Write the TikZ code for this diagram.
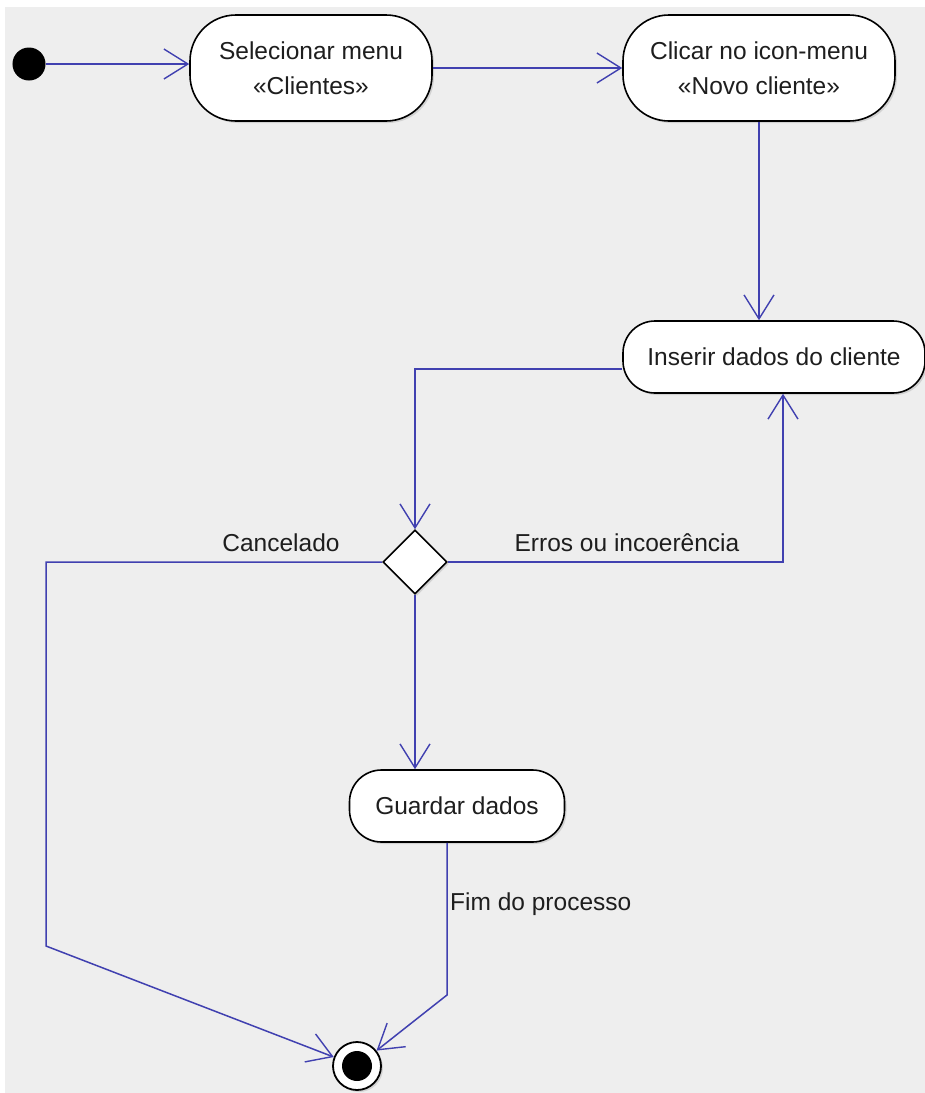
\documentclass[tikz,border=0pt]{standalone}
\usepackage{fontspec}
\setmainfont{Liberation Sans}
\usetikzlibrary{shapes,arrows.meta,shadows}
\definecolor{umlblue}{RGB}{64,64,176}
\definecolor{umlback}{RGB}{238,238,238}
\definecolor{umltext}{RGB}{30,30,30}

\begin{document}
\begin{tikzpicture}[x=1pt,y=-1pt]
\tikzset{act/.style={draw,line width=1.6pt,fill=white,rounded corners=30pt,align=center,text=umltext,
  font=\fontsize{24.5}{35}\selectfont,drop shadow={opacity=0.25,shadow xshift=2pt,shadow yshift=-2pt}}}
\tikzset{flow/.style={draw=umlblue,line width=1.5pt,-{Straight Barb[length=24pt,width=30pt,line width=1.4pt]}}}
\tikzset{guard/.style={text=umltext,font=\fontsize{24.5}{30}\selectfont,inner sep=0pt}}
\fill[white] (0,0) rectangle (925,1093);
\fill[umlback] (5,7) rectangle (925,1093);
\useasboundingbox (0,0) rectangle (925,1093);

\node[circle,fill=black,draw=black,line width=1pt,minimum size=32pt,inner sep=0pt] (start) at (29,64) {};
\node[act,minimum width=242pt,minimum height=106pt,rounded corners=46pt] (sel) at (311,68) {Selecionar menu\\«Clientes»};
\node[act,minimum width=272pt,minimum height=106pt,rounded corners=46pt] (cli) at (759,68) {Clicar no icon-menu\\«Novo cliente»};
\node[act,minimum width=302pt,minimum height=72pt,rounded corners=32pt] (ins) at (774,357) {Inserir dados do cliente};
\node[diamond,draw,line width=1.6pt,fill=white,minimum width=64pt,minimum height=64pt,inner sep=0pt,
  drop shadow={opacity=0.25,shadow xshift=2pt,shadow yshift=-2pt}] (dec) at (415,562) {};
\node[act,minimum width=215pt,minimum height=72pt,rounded corners=32pt] (gua) at (457,806) {Guardar dados};
\node[circle,draw,line width=1.8pt,fill=white,minimum size=48pt,inner sep=0pt,
  drop shadow={opacity=0.25,shadow xshift=2pt,shadow yshift=-2pt}] (fin) at (357,1066) {};
\node[circle,fill=black,minimum size=30pt,inner sep=0pt] (fincore) at (fin) {};

\coordinate (cbend) at (46,946);
\coordinate (gbend) at (447,995);

\draw[flow] (start.east) -- (start -| sel.west);
\draw[flow] (sel.east) -- (cli.west);
\draw[flow] (cli.south) -- (cli.south |- ins.north);
\draw[flow] ([yshift=-12pt]ins.west) -| (dec.north);
\draw[flow] (dec.east) -| ([xshift=9pt]ins.south);
\draw[flow] (dec.west) -| (cbend) -- (fin);
\draw[flow] (dec.south) -- (dec.south |- gua.north);
\draw[flow] (gua.south -| gbend) -- (gbend) -- (fin);

\node[guard,anchor=base] (lcan) at (281,551) {Cancelado};
\node[guard,anchor=base] (lerr) at (627,551) {Erros ou incoerência};
\node[guard,anchor=base west] (lfim) at (450,910) {Fim do processo};
\end{tikzpicture}
\end{document}
